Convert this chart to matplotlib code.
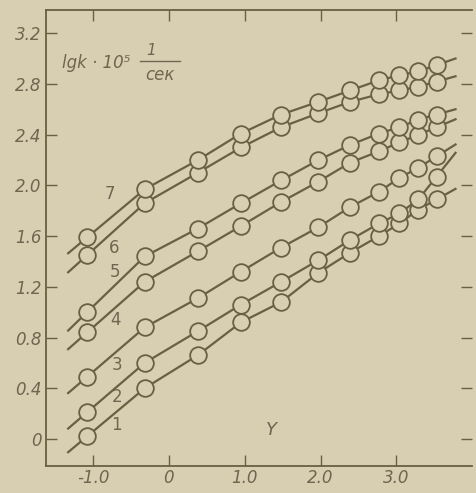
import matplotlib
matplotlib.use("Agg")
import matplotlib.pyplot as plt
import numpy as np

# Y values (ionizing power) shared by all curves
y_param = [-1.08, -0.32, 0.38, 0.95, 1.48, 1.97, 2.39, 2.77, 3.04, 3.29, 3.53]

# lg k * 10^5 for curves 1..7
curve_1 = [0.02, 0.40, 0.66, 0.92, 1.08, 1.31, 1.47, 1.60, 1.70, 1.81, 1.89]
curve_2 = [0.21, 0.60, 0.85, 1.06, 1.24, 1.41, 1.57, 1.70, 1.78, 1.89, 2.07]
curve_3 = [0.49, 0.88, 1.11, 1.32, 1.51, 1.67, 1.83, 1.95, 2.06, 2.14, 2.23]
curve_4 = [0.84, 1.24, 1.48, 1.68, 1.87, 2.03, 2.18, 2.27, 2.34, 2.40, 2.46]
curve_5 = [1.00, 1.44, 1.66, 1.86, 2.04, 2.20, 2.32, 2.41, 2.46, 2.52, 2.56]
curve_6 = [1.45, 1.86, 2.10, 2.30, 2.46, 2.57, 2.66, 2.72, 2.75, 2.78, 2.82]
curve_7 = [1.59, 1.97, 2.20, 2.41, 2.56, 2.66, 2.75, 2.83, 2.87, 2.90, 2.95]
curves = [curve_1, curve_2, curve_3, curve_4, curve_5, curve_6, curve_7]

curve_names = ["1", "2", "3", "4", "5", "6", "7"]
name_x = [-0.69, -0.69, -0.69, -0.71, -0.71, -0.72, -0.78]
name_y = [0.11, 0.33, 0.58, 0.94, 1.32, 1.51, 1.93]

x_ticks = [-1.0, 0, 1.0, 2.0, 3.0]
x_ticklabels = ["-1.0", "0", "1.0", "2.0", "3.0"]
y_ticks = [0, 0.4, 0.8, 1.2, 1.6, 2.0, 2.4, 2.8, 3.2]
y_ticklabels = ["0", "0.4", "0.8", "1.2", "1.6", "2.0", "2.4", "2.8", "3.2"]

paper = "#d8cfb3"
ink = "#6a5f43"
text_c = "#6e6650"

fig = plt.figure(figsize=(4.76, 4.93), dpi=100, facecolor=paper)
ax = fig.add_axes([0.097, 0.055, 0.895, 0.925], facecolor=paper)

xs = np.array(y_param)
ext = 0.25
for ys in curves:
    ys = np.array(ys)
    # extend the line a little past the end points along the end slopes
    s0 = (ys[1] - ys[0]) / (xs[1] - xs[0])
    s1 = (ys[-1] - ys[-2]) / (xs[-1] - xs[-2])
    lx = np.concatenate([[xs[0] - ext], xs, [xs[-1] + ext]])
    ly = np.concatenate([[ys[0] - s0 * ext], ys, [ys[-1] + s1 * ext]])
    ax.plot(lx, ly, color=ink, lw=1.6, zorder=2)
    ax.plot(xs, ys, 'o', ms=12, mfc=paper, mec=ink, mew=1.3, zorder=3)

for n, tx, ty in zip(curve_names, name_x, name_y):
    ax.text(tx, ty, n, color=text_c, fontsize=12, ha='center', va='center')

ax.text(1.35, 0.07, "Y", color=text_c, fontsize=13, style='italic',
        ha='center', va='center')

# axis quantity label in the top left corner
ax.text(0.038, 0.884, "lgk · 10⁵", transform=ax.transAxes, color=text_c,
        fontsize=12, style='italic', ha='left', va='center')
ax.text(0.246, 0.910, "1", transform=ax.transAxes, color=text_c,
        fontsize=11, style='italic', ha='center', va='center')
ax.plot([0.221, 0.315], [0.887, 0.887], transform=ax.transAxes,
        color=text_c, lw=1.0)
ax.text(0.268, 0.857, "сек", transform=ax.transAxes, color=text_c,
        fontsize=12, style='italic', ha='center', va='center')

ax.set_xlim(-1.62, 4.0)
ax.set_ylim(-0.213, 3.386)
ax.set_xticks(x_ticks)
ax.set_xticklabels(x_ticklabels)
ax.set_yticks(y_ticks)
ax.set_yticklabels(y_ticklabels)
ax.tick_params(direction='in', length=8, width=1.0, color=ink,
               labelcolor=text_c, labelsize=12, top=True, right=True)
ax.tick_params(axis='x', pad=2)
for lab in ax.get_xticklabels() + ax.get_yticklabels():
    lab.set_fontstyle('italic')

for side in ['left', 'bottom', 'top']:
    ax.spines[side].set_color(ink)
    ax.spines[side].set_linewidth(1.3)
ax.spines['right'].set_visible(False)

fig.savefig("out.png", dpi=100, facecolor=paper)
